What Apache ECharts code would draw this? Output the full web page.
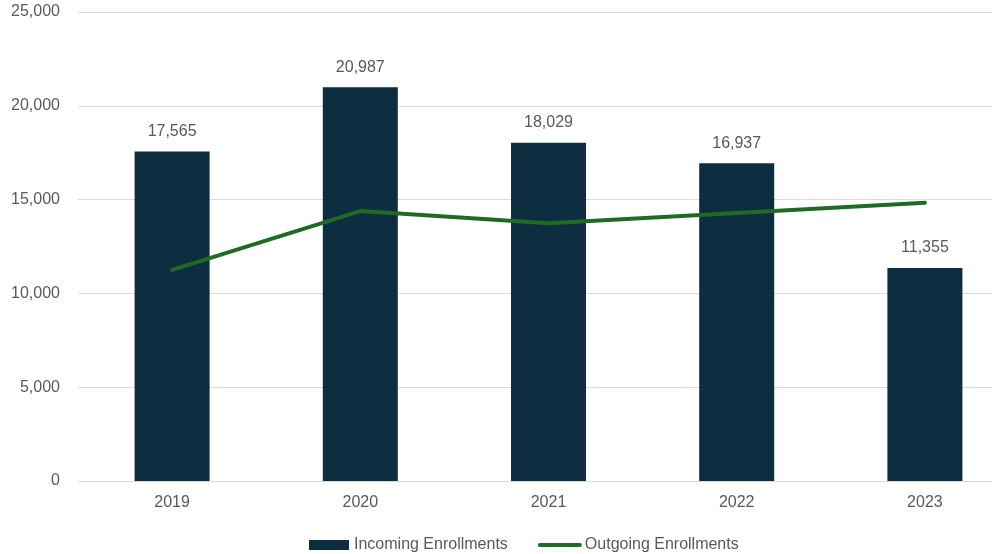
<!DOCTYPE html>
<html>
<head>
<meta charset="utf-8">
<script src="https://cdn.jsdelivr.net/npm/echarts@6/dist/echarts.min.js"></script>
<style>
  html, body { margin: 0; padding: 0; background: #fff; }
  #chart { width: 992px; height: 554px; }
</style>
</head>
<body>
<div id="chart"></div>
<script>
const years = ['2019', '2020', '2021', '2022', '2023'];
const incoming = [17565, 20987, 18029, 16937, 11355];
const outgoing = [11250, 14390, 13740, 14290, 14830];

const chart = echarts.init(document.getElementById('chart'));
const textColor = '#595959';
const font = 'Liberation Sans, Arial, sans-serif';

chart.setOption({
  animation: false,
  // plot area runs past the right edge of the picture
  grid: { left: 78, top: 12, width: 941, height: 469, containLabel: false, outerBoundsMode: 'none' },
  legend: {
    left: 304,
    top: 532,
    itemWidth: 40,
    itemHeight: 10,
    itemGap: 30,
    textStyle: { color: textColor, fontSize: 16, fontFamily: font },
    data: [
      { name: 'Incoming Enrollments', icon: 'rect' },
      { name: 'Outgoing Enrollments', itemStyle: { opacity: 0 }, lineStyle: { width: 4 } }
    ]
  },
  xAxis: {
    type: 'category',
    data: years,
    axisTick: { show: false },
    axisLine: { lineStyle: { color: '#d9d9d9', width: 1 } },
    axisLabel: { color: textColor, fontSize: 16, fontFamily: font, margin: 14 }
  },
  yAxis: {
    type: 'value',
    min: 0,
    max: 25000,
    interval: 5000,
    axisLine: { show: false },
    axisTick: { show: false },
    splitLine: { lineStyle: { color: '#d9d9d9', width: 1 } },
    axisLabel: {
      color: textColor, fontSize: 16, fontFamily: font, margin: 18,
      formatter: v => v.toLocaleString('en-US')
    }
  },
  series: [
    {
      name: 'Incoming Enrollments',
      type: 'bar',
      data: incoming,
      barWidth: 75,
      itemStyle: { color: '#0d2e40' },
      label: {
        show: true,
        position: 'top',
        distance: 12,
        color: textColor,
        fontSize: 16,
        fontFamily: font,
        formatter: p => p.value.toLocaleString('en-US')
      }
    },
    {
      name: 'Outgoing Enrollments',
      type: 'line',
      data: outgoing,
      symbol: 'none',
      lineStyle: { color: '#1f6b25', width: 4, cap: 'round' },
      itemStyle: { color: '#1f6b25' }
    }
  ]
});
</script>
</body>
</html>
